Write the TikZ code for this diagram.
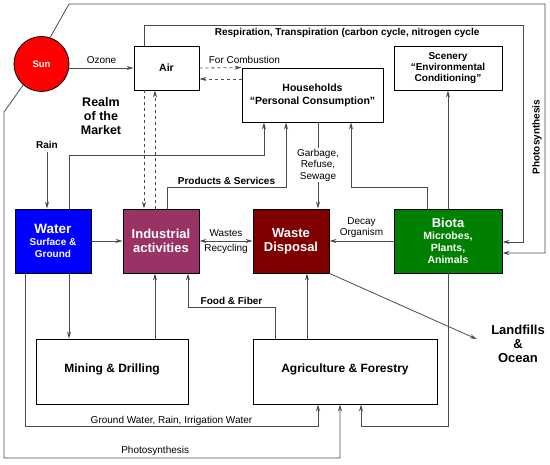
\documentclass[tikz,border=0pt]{standalone}
\usepackage{fontspec}
\setmainfont{Liberation Sans}
\usetikzlibrary{arrows.meta}
\definecolor{sunred}{HTML}{FF0000}
\definecolor{waterblue}{HTML}{0000FF}
\definecolor{induspurple}{HTML}{993366}
\definecolor{wastered}{HTML}{800000}
\definecolor{biotagreen}{HTML}{008000}
\begin{document}
\begin{tikzpicture}[x=1pt, y=-1pt,
    box/.style={draw=black, line width=0.8pt, align=center, inner sep=1pt},
    colbox/.style={box, text=white, minimum height=64pt},
    flow/.style={draw=black!70, line width=0.8pt, -{Stealth[length=7pt,width=4pt]}},
    lbl/.style={font=\fontsize{10}{11.5}\selectfont, align=center, inner sep=3pt},
    lblb/.style={font=\fontsize{10}{11.5}\selectfont\bfseries, align=center, inner sep=3pt}]
        \useasboundingbox (0,0) rectangle (550,465);

        % boxes
        \node [draw=black, line width=0.8pt, circle, fill=sunred, minimum size=55pt, inner sep=0pt,
          text=white, font=\fontsize{9.5}{11}\selectfont\bfseries] (sun) at (41.5,64) {Sun};
        \node [box, minimum width=65pt, minimum height=44pt,
          font=\fontsize{10.5}{12}\selectfont\bfseries] (air) at (166.5,68) {Air};
        \node [box, minimum width=141pt, minimum height=54pt,
          font=\fontsize{10.5}{13}\selectfont\bfseries] (house) at (312.5,95)
          {Households\\``Personal Consumption''};
        \node [box, minimum width=108pt, minimum height=44pt,
          font=\fontsize{10}{11}\selectfont\bfseries] (scenery) at (448,68)
          {Scenery\\``Environmental\\Conditioning''};

        \node [colbox, fill=waterblue, minimum width=76pt] (water) at (53,241)
          {{\fontsize{13.5}{12}\selectfont\bfseries Water}\\
           {\fontsize{10}{12}\selectfont\bfseries Surface \&}\\
           {\fontsize{10}{12}\selectfont\bfseries Ground}};
        \node [colbox, fill=induspurple, minimum width=76pt,
          font=\fontsize{13}{14}\selectfont\bfseries] (indus) at (161,241)
          {Industrial\\activities};
        \node [colbox, fill=wastered, minimum width=76pt,
          font=\fontsize{13}{14}\selectfont\bfseries] (waste) at (291,241)
          {Waste\\Disposal};
        \node [colbox, fill=biotagreen, minimum width=108pt,
          font=\fontsize{10.5}{12}\selectfont\bfseries] (biota) at (448,241)
          {{\fontsize{13}{13}\selectfont Biota}\\Microbes,\\Plants,\\Animals};

        \node [box, minimum width=152pt, minimum height=65pt,
          font=\fontsize{12}{13}\selectfont\bfseries] (mining) at (112,371.5)
          {\raisebox{6pt}{Mining \& Drilling}};
        \node [box, minimum width=184pt, minimum height=65pt,
          font=\fontsize{12}{13}\selectfont\bfseries] (agri) at (345,371.5)
          {\raisebox{6pt}{Agriculture \& Forestry}};

        % free texts
        \node [font=\fontsize{12.5}{14}\selectfont\bfseries, align=center] (realm) at (101,116)
          {Realm\\of the\\Market};
        \node [font=\fontsize{13}{14}\selectfont\bfseries, align=center] (landfill) at (518,344)
          {Landfills\\\&\\Ocean};
        \node [lblb] (rain) at (47,145) {Rain};
        \node [lbl, inner sep=1pt] (garbage) at (318,165) {Garbage,\\Refuse,\\Sewage};
        \node [lblb, rotate=90] (photo) at (537,137) {Photosynthesis};

        % sun and air
        \draw [flow] (sun.east |- air.west) -- node [lbl, above, inner sep=4pt] {Ozone} (air.west);
        \draw [flow, dashed] (air.east) -- node [lbl, above right, pos=0.12, inner sep=4pt] {For Combustion} (house.north west);
        \draw [flow, dashed] (house.west |- 0,79) -- (air.east |- 0,79);
        \draw [flow, dashed] (air.south -| 144,0) -- (indus.north -| 144,0);
        \draw [flow, dashed] (indus.north -| 155,0) -- (air.south -| 155,0);
        \draw [flow] (air.north -| 144,0) |- node [lblb, below, pos=0.768] {Respiration, Transpiration (carbon cycle, nitrogen cycle} (523,25)
          -- (523,242) -- (biota.east |- 0,242);
        \draw [flow] (sun.72) -- (69,4) -| (545,253) -- (biota.east |- 0,253);
        \draw [flow] (sun.229) -- (4,112) |- node [lbl, above, pos=0.725, inner sep=2pt] {Photosynthesis} (340,458)
          -- (agri.south -| 340,0);

        % to households
        \draw [flow] (rain) -- (rain |- water.north);
        \draw [flow] (water.north -| 69,0) |- (264,155) -- (house.south -| 264,0);
        \draw [flow] (indus.north -| 167,0) |- node [lblb, above, pos=0.75, inner sep=2pt] {Products \& Services} (286,187)
          -- (house.south -| 286,0);
        \draw [flow] (biota.north -| 427,0) |- (351,187) -- (house.south -| 351,0);
        \draw [flow] (biota) -- (scenery);
        \draw [draw=black!70, line width=0.8pt] (house.south -| garbage) -- (garbage);
        \draw [flow] (garbage) -- (garbage |- waste.north);

        % middle row
        \draw [flow] (water) -- (indus);
        \draw [flow, {Stealth[length=7pt,width=4pt]}-{Stealth[length=7pt,width=4pt]}] (indus) --
          node [lbl, above, inner sep=4pt] {Wastes}
          node [lbl, below, inner sep=3pt] {Recycling} (waste);
        \draw [flow] (biota) -- node [lbl, above, inner sep=3pt] {Decay\\Organism} (waste);
        \draw [flow, shorten >=12pt] (waste.south east) -- (landfill.west);

        % bottom row
        \draw [flow] (water.south -| 69,0) -- (mining.north -| 69,0);
        \draw [flow] (mining.north -| 155,0) -- (indus.south -| 155,0);
        \draw [flow] (agri.north -| 275,0) |- node [lblb, above, pos=0.75, inner sep=2pt] {Food \& Fiber} (188,307)
          -- (indus.south -| 188,0);
        \draw [flow] (agri.north -| 307,0) -- (waste.south -| 307,0);
        \draw [flow] (water.south -| 25,0) |- node [lbl, above, pos=0.75, inner sep=0.5pt] {Ground Water, Rain, Irrigation Water} (318,426)
          -- (agri.south -| 318,0);
        \draw [flow] (biota.south) |- (361,426) -- (agri.south -| 361,0);
      \end{tikzpicture}
\end{document}
